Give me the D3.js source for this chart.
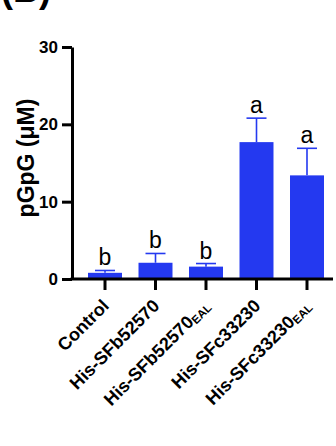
<!DOCTYPE html>
<html><head><meta charset="utf-8">
<script src="https://cdn.jsdelivr.net/npm/d3@7"></script>
<style>html,body{margin:0;padding:0;background:#fff;}svg{display:block;font-family:"Liberation Sans",Arial,Helvetica,sans-serif;}</style>
</head><body>
<svg id="c" width="336" height="446"></svg>
<script>
const categories = ["Control","His-SFb52570","His-SFb52570EAL","His-SFc33230","His-SFc33230EAL"];
const labelMain = ["Control","His-SFb52570","His-SFb52570","His-SFc33230","His-SFc33230"];
const labelSub = ["","","EAL","","EAL"];
const values = [0.8, 2.1, 1.6, 17.7, 13.4];
const errors = [0.3, 1.2, 0.4, 3.1, 3.5];
const letters = ["b","b","b","a","a"];
const yTicks = [0,10,20,30];
const yTitle = "pGpG (μM)";
const panel = "(B)";

const blue = "#2439f0";
const svg = d3.select("#c");
svg.append("rect").attr("width",336).attr("height",446).attr("fill","#fff");

const x = d3.scaleBand().domain(categories).range([72, 340]).paddingInner(0.327).paddingOuter(0.317);
const y = d3.scaleLinear().domain([0,30]).range([279, 47]);

// panel label
svg.append("text").attr("x",1).attr("y",2).attr("font-size",36).attr("font-weight","bold").text(panel);

// bars
svg.selectAll("rect.bar").data(categories).enter().append("rect")
  .attr("class","bar")
  .attr("x", d => x(d)).attr("width", x.bandwidth())
  .attr("y", (d,i) => y(values[i])).attr("height", (d,i) => y(0) - y(values[i]))
  .attr("fill", blue);

// error bars (upper only)
const eb = svg.selectAll("g.eb").data(categories).enter().append("g").attr("class","eb");
eb.append("line")
  .attr("x1", d => x(d)+x.bandwidth()/2).attr("x2", d => x(d)+x.bandwidth()/2)
  .attr("y1", (d,i) => y(values[i])).attr("y2", (d,i) => y(values[i]+errors[i]))
  .attr("stroke", blue).attr("stroke-width",1.6);
eb.append("line")
  .attr("x1", d => x(d)+x.bandwidth()/2-10).attr("x2", d => x(d)+x.bandwidth()/2+10)
  .attr("y1", (d,i) => y(values[i]+errors[i])).attr("y2", (d,i) => y(values[i]+errors[i]))
  .attr("stroke", blue).attr("stroke-width",1.6);

// significance letters
svg.selectAll("text.sig").data(categories).enter().append("text")
  .attr("class","sig")
  .attr("x", d => x(d)+x.bandwidth()/2)
  .attr("y", (d,i) => y(values[i]+errors[i]) - 5)
  .attr("text-anchor","middle").attr("font-size",23).attr("fill","#000")
  .text((d,i) => letters[i]);

// y axis
const yAxis = svg.append("g").attr("transform","translate(72,0)")
  .call(d3.axisLeft(y).tickValues(yTicks).tickSize(10).tickSizeOuter(0).tickPadding(4));
yAxis.select(".domain").attr("stroke","#000").attr("stroke-width",3);
yAxis.selectAll(".tick line").attr("stroke","#000").attr("stroke-width",3);
yAxis.selectAll(".tick text").attr("font-size",17).attr("font-weight","bold").attr("fill","#000")
  .attr("font-family",'"Liberation Sans",Arial,sans-serif');

// x axis
const xAxis = svg.append("g").attr("transform","translate(0,279)")
  .call(d3.axisBottom(x).tickSize(11).tickSizeOuter(0).tickFormat(""));
xAxis.select(".domain").attr("d","M70.5,0H333").attr("stroke","#000").attr("stroke-width",3);
xAxis.selectAll(".tick line").attr("stroke","#000").attr("stroke-width",3);

// x labels
const xl = svg.selectAll("text.xl").data(categories).enter().append("text")
  .attr("class","xl")
  .attr("transform", d => `translate(${x(d)+x.bandwidth()/2+5},${307}) rotate(-45)`)
  .attr("text-anchor","end").attr("font-size",18).attr("font-weight","bold").attr("fill","#000");
xl.append("tspan").text((d,i) => labelMain[i]);
xl.append("tspan").attr("font-size",11.5).attr("dy",2).text((d,i) => labelSub[i]);

// y title
svg.append("text").attr("transform","translate(34,158) rotate(-90)")
  .attr("text-anchor","middle").attr("font-size",23).attr("font-weight","bold").text(yTitle);
</script>
</body></html>
